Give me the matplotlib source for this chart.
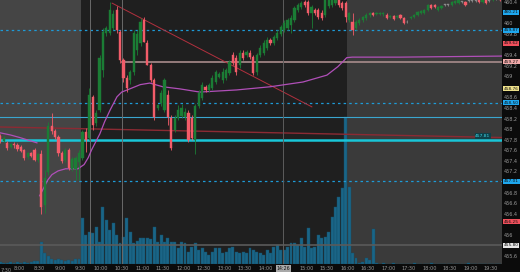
import matplotlib
matplotlib.use("Agg")
import matplotlib.pyplot as plt
from matplotlib.patches import Rectangle
from matplotlib.transforms import blended_transform_factory

# 5 minute bars, times in minutes after midnight
pre_t = list(range(450, 570, 5))
reg_t = list(range(570, 960, 5))
ah_t = list(range(960, 1185, 5))

pre_open = [457.87, 457.78, 457.74, 457.67, 457.72, 457.70, 457.67, 457.61, 457.48, 457.55, 457.61, 457.42,
            457.52, 456.57, 457.19, 458.06, 457.97, 457.85, 457.55, 457.42, 457.61, 457.25, 457.25, 457.38]
pre_high = [457.91, 457.87, 457.78, 457.74, 457.76, 457.74, 457.70, 457.63, 457.57, 457.57, 457.65, 457.55,
            457.61, 457.23, 458.14, 458.31, 458.01, 457.89, 457.59, 457.65, 457.65, 457.48, 457.50, 457.61]
pre_low = [457.74, 457.76, 457.61, 457.65, 457.65, 457.59, 457.57, 457.42, 457.44, 457.48, 457.40, 457.38,
           456.40, 456.42, 457.14, 457.91, 457.82, 457.50, 457.36, 457.38, 457.23, 457.21, 457.04, 457.03]
pre_close = [457.78, 457.84, 457.65, 457.72, 457.69, 457.63, 457.59, 457.46, 457.54, 457.50, 457.42, 457.52,
             456.53, 457.08, 458.06, 457.97, 457.85, 457.54, 457.40, 457.61, 457.27, 457.44, 457.46, 457.55]
pre_vol = [20, 10, 10, 20, 10, 20, 10, 20, 10, 20, 30, 30, 220, 110, 80, 50, 40, 50, 40, 30, 40, 30, 50, 50]

reg_open = [457.46, 457.95, 457.84, 458.61, 458.12, 458.36, 459.12, 459.82, 459.82, 459.91,
            460.25, 459.84, 459.31, 458.97, 458.93, 459.08, 459.50, 459.63, 460.06, 459.63,
            459.21, 458.93, 458.40, 458.50, 458.36, 458.65, 458.21, 457.99, 458.21, 458.25,
            458.23, 458.31, 458.21, 457.80, 458.44, 458.59, 458.80, 458.74, 458.78, 458.89,
            458.99, 458.93, 458.97, 459.06, 459.40, 459.35, 459.21, 459.44, 459.40, 459.44,
            459.36, 459.08, 459.40, 459.44, 459.53, 459.69, 459.63, 459.72, 459.80, 459.87,
            459.91, 459.97, 460.06, 460.25, 460.31, 460.40, 460.40, 460.19, 460.25, 460.25,
            460.19, 460.16, 460.33, 460.35, 460.38, 460.48, 460.38, 460.38]
reg_high = [457.99, 458.02, 458.78, 458.65, 458.36, 459.40, 459.91, 459.95, 460.40, 460.25,
            460.33, 459.87, 459.35, 459.02, 459.12, 459.87, 459.87, 460.10, 460.12, 459.69,
            459.25, 458.97, 458.48, 458.74, 458.97, 458.74, 458.27, 458.27, 458.46, 458.48,
            458.40, 458.36, 458.27, 458.48, 458.74, 458.89, 458.84, 458.87, 459.02, 459.12,
            459.08, 459.16, 459.16, 459.31, 459.46, 459.40, 459.50, 459.50, 459.50, 459.50,
            459.40, 459.44, 459.59, 459.69, 459.74, 459.72, 459.78, 459.87, 459.97, 460.06,
            460.10, 460.16, 460.33, 460.38, 460.42, 460.44, 460.44, 460.35, 460.29, 460.29,
            460.25, 460.53, 460.50, 460.50, 460.53, 460.50, 460.42, 460.42]
reg_low = [457.42, 457.57, 457.80, 457.99, 458.06, 458.33, 458.99, 459.76, 459.78, 459.87,
           459.82, 459.25, 458.89, 458.70, 458.86, 459.02, 459.40, 459.57, 459.65, 459.21,
           458.89, 458.18, 458.36, 458.44, 458.33, 458.08, 457.61, 457.95, 458.18, 458.21,
           458.18, 457.76, 457.80, 457.52, 458.40, 458.55, 458.70, 458.70, 458.74, 458.86,
           458.97, 458.87, 458.93, 459.02, 459.21, 459.02, 459.16, 459.31, 459.36, 459.33,
           459.02, 459.02, 459.36, 459.40, 459.50, 459.59, 459.59, 459.69, 459.76, 459.84,
           459.87, 459.82, 460.02, 460.21, 460.27, 460.31, 460.16, 459.91, 460.16, 460.08,
           460.06, 460.12, 460.29, 460.31, 460.35, 460.31, 460.25, 460.02]
reg_close = [457.95, 457.80, 458.65, 458.08, 458.31, 459.35, 459.84, 459.91, 460.25, 460.18,
             459.87, 459.31, 458.97, 458.78, 459.08, 459.82, 459.80, 460.02, 459.65, 459.21,
             458.93, 458.23, 458.46, 458.69, 458.93, 458.23, 457.65, 458.21, 458.36, 458.40,
             458.33, 457.80, 457.84, 458.44, 458.69, 458.84, 458.74, 458.84, 458.97, 459.08,
             459.04, 459.08, 459.12, 459.27, 459.25, 459.08, 459.44, 459.35, 459.46, 459.36,
             459.06, 459.40, 459.53, 459.63, 459.69, 459.63, 459.74, 459.82, 459.93, 460.01,
             460.06, 460.10, 460.29, 460.35, 460.38, 460.35, 460.19, 460.31, 460.19, 460.12,
             460.10, 460.44, 460.44, 460.48, 460.50, 460.35, 460.29, 460.12]
reg_vol = [460, 290, 320, 310, 370, 220, 570, 440, 340, 410, 290, 210, 270, 460, 320, 210, 230, 260,
           260, 260, 250, 370, 220, 290, 220, 260, 220, 220, 160, 220,
           210, 120, 170, 210, 140, 160, 120, 90, 120, 160, 160, 110, 120, 160, 170, 120, 110, 120,
           110, 160, 140, 120, 110, 90, 140, 110, 170, 190, 140, 140, 170, 210, 210, 190, 260, 170,
           360, 160, 170, 290, 260, 270, 320, 470, 570, 670, 760, 1470]

ah_open = [460.06, 460.02, 459.91, 460.01, 460.06, 460.10, 460.16, 460.19, 460.18, 460.18,
           460.18, 460.16, 460.12, 460.14, 460.12, 460.16, 460.10, 460.02, 460.10, 460.12,
           460.16, 460.19, 460.19, 460.25, 460.35, 460.35, 460.25, 460.29, 460.35, 460.35,
           460.35, 460.38, 460.38, 460.40, 460.40, 460.42, 460.42, 460.42, 460.46, 460.40,
           460.46, 460.42, 460.44, 460.46, 460.46]
ah_high = [460.21, 460.19, 460.06, 460.10, 460.14, 460.19, 460.21, 460.21, 460.21, 460.21,
           460.21, 460.19, 460.16, 460.16, 460.16, 460.18, 460.12, 460.06, 460.14, 460.18,
           460.23, 460.25, 460.27, 460.36, 460.36, 460.36, 460.33, 460.35, 460.36, 460.36,
           460.42, 460.44, 460.46, 460.42, 460.42, 460.44, 460.44, 460.44, 460.48, 460.44,
           460.48, 460.44, 460.50, 460.48, 460.48]
ah_low = [460.02, 459.78, 459.87, 459.97, 460.02, 460.06, 460.12, 460.14, 460.16, 460.16,
          460.14, 460.08, 460.10, 460.06, 460.10, 460.08, 459.99, 460.01, 460.08, 460.10,
          460.14, 460.18, 460.18, 460.23, 460.27, 460.29, 460.23, 460.27, 460.33, 460.33,
          460.33, 460.36, 460.36, 460.38, 460.33, 460.40, 460.40, 460.40, 460.38, 460.38,
          460.36, 460.40, 460.42, 460.44, 460.42]
ah_close = [460.19, 459.87, 460.02, 460.06, 460.12, 460.16, 460.19, 460.16, 460.19, 460.19,
            460.19, 460.10, 460.14, 460.08, 460.14, 460.10, 460.01, 460.02, 460.12, 460.16,
            460.21, 460.23, 460.25, 460.35, 460.29, 460.31, 460.31, 460.33, 460.35, 460.35,
            460.40, 460.42, 460.44, 460.40, 460.35, 460.42, 460.42, 460.42, 460.40, 460.44,
            460.38, 460.42, 460.48, 460.46, 460.44]
ah_vol = [770, 110, 60, 10, 20, 60, 40, 350, 10, 5, 10, 5, 5, 10, 5, 5, 5, 5, 5, 10, 5, 5, 5, 5,
          10, 5, 5, 5, 5, 5, 5, 5, 5, 5, 5, 10, 5, 5, 5, 5, 5, 5, 5, 5, 5]

# purple average lines (prior session tail, then vwap from 8:30)
prev_avg_t = [452, 467, 481, 496, 506]
prev_avg_p = [457.93, 457.89, 457.84, 457.78, 457.74]
vwap_t = [510, 516, 522, 528, 537, 548, 566, 575, 581, 586, 592, 598, 605, 613, 623, 630, 638, 657,
          671, 690, 715, 744, 798, 847, 895, 930, 946, 953, 959, 967, 1037, 1186]
vwap_p = [456.74, 456.89, 457.04, 457.14, 457.21, 457.25, 457.25, 457.33, 457.46, 457.61, 457.76,
          457.91, 458.14, 458.36, 458.61, 458.70, 458.74, 458.84, 458.87, 458.80, 458.76, 458.70,
          458.74, 458.80, 458.89, 459.02, 459.18, 459.27, 459.35, 459.36, 459.36, 459.38]

# price levels
dotted_levels = [459.87, 458.50, 457.01]
support_level = 457.80
thin_level = 458.23
pink_level = 459.27
base_level = 455.80
slope_line = ([452, 1186], [458.04, 457.84])
trend_line = ([616, 908], [460.38, 458.42])

box_prices = [460.21, 459.87, 459.62, 459.27, 458.76, 458.50, 457.01, 456.25, 455.80]
box_faces = ["#1ea7ee", "#1ea7ee", "#f0505c", "#f2aaaa", "#ede08a", "#1ea7ee", "#1ea7ee", "#f0505c", "#e6e6e6"]

y_ticks = [460.4, 460.0, 459.8, 459.4, 459.2, 459.0, 458.6, 458.4, 458.2, 458.0, 457.8, 457.6,
           457.4, 457.2, 456.8, 456.6, 456.4, 456.0, 455.6]
x_ticks = [480, 510, 540, 570, 600, 630, 660, 690, 720, 750, 780, 810, 840,
           900, 930, 960, 990, 1020, 1050, 1080, 1110, 1140, 1170]
x_labels = ["8:00", "8:30", "9:00", "9:30", "10:00", "10:30", "11:00", "11:30", "12:00", "12:30",
            "13:00", "13:30", "14:00", "15:00", "15:30", "16:00", "16:30", "17:00", "17:30",
            "18:00", "18:30", "19:00", "19:30"]
event_t = [584, 630]
cursor_t = 866

GREEN = "#1b7d35"
RED = "#f25c69"
VOL = "#1a6587"
TXT = "#9a9a9a"

fig = plt.figure(figsize=(5.2, 2.72), dpi=100, facecolor="#0b0b0b")
rect = [0, 8 / 272, 502 / 520, 264 / 272]
ax_v = fig.add_axes(rect)
ax = fig.add_axes(rect)
ax.set_facecolor("none")

t0, t1 = 452, 1186
for a in (ax_v, ax):
    a.set_xlim(t0, t1)
    for s in a.spines.values():
        s.set_visible(False)
ax_v.set_ylim(0, 2640)
ax_v.set_xticks([])
ax_v.set_yticks([])

# session backgrounds
ax_v.axvspan(t0, 570, color="#454545", lw=0)
ax_v.axvspan(570, 960, color="#1f1f1f", lw=0)
ax_v.axvspan(960, t1, color="#3a3a3a", lw=0)

# volume
for tt, vv in ((pre_t, pre_vol), (reg_t, reg_vol), (ah_t, ah_vol)):
    ax_v.bar([t + 2.5 for t in tt], vv, width=4.3, color=VOL, edgecolor="#134f69", linewidth=0.3)

ax.set_ylim(455.45, 460.44)

def draw_candles(ax, tt, o, h, l, c):
    for t, oo, hh, ll, cc in zip(tt, o, h, l, c):
        if cc > oo:
            col = GREEN
        elif cc < oo:
            col = RED
        else:
            col = "#8a8a8a"
        ax.vlines(t + 2.5, ll, hh, color=col, lw=0.6, zorder=4)
        body = max(abs(cc - oo), 0.012)
        ax.add_patch(Rectangle((t + 0.9, min(oo, cc)), 3.2, body, facecolor=col,
                               edgecolor=col, lw=0.3, zorder=4))

# lines behind candles
for lv in dotted_levels:
    ax.axhline(lv, color="#1e9bd7", lw=0.9, ls=(0, (2, 2.5)), zorder=2)
ax.axhline(thin_level, color="#3aa6cf", lw=0.8, zorder=2)
ax.axhline(support_level, color="#19c6d8", lw=1.8, zorder=2)
ax.axhline(base_level, color="#5a5a5a", lw=1.2, zorder=2)
ax.plot([630, t1], [pink_level, pink_level], color="#a88c8c", lw=1.2, zorder=2)
ax.plot(slope_line[0], slope_line[1], color="#8c2a33", lw=1.0, zorder=2)
ax.plot(trend_line[0], trend_line[1], color="#b2303e", lw=0.7, zorder=2)
for et in event_t:
    ax.axvline(et, color="#6a6a6a", lw=0.7, zorder=2)
ax.axvline(cursor_t, color="#5c5c5c", lw=0.7, zorder=2)

ax.plot(prev_avg_t, prev_avg_p, color="#b04fb8", lw=0.9, zorder=3)
ax.plot(vwap_t, vwap_p, color="#b04fb8", lw=0.9, zorder=3)

draw_candles(ax, pre_t, pre_open, pre_high, pre_low, pre_close)
draw_candles(ax, reg_t, reg_open, reg_high, reg_low, reg_close)
draw_candles(ax, ah_t, ah_open, ah_high, ah_low, ah_close)

# axes text
ax.yaxis.tick_right()
ax.set_yticks(y_ticks)
ax.set_yticklabels(["%g" % v for v in y_ticks])
ax.tick_params(axis="y", length=0, pad=1.5, labelsize=3.5, labelcolor=TXT)
ax.set_xticks(x_ticks)
ax.set_xticklabels(x_labels)
ax.tick_params(axis="x", length=0, pad=1.5, labelsize=3.6, labelcolor=TXT)
ax.text(t0 + 0.5, 455.38, "7:30", fontsize=3.6, color=TXT, ha="left", va="top", clip_on=False)

tr = blended_transform_factory(ax.transAxes, ax.transData)
for p, fc in zip(box_prices, box_faces):
    ax.text(1.004, p, "%.2f" % p, transform=tr, fontsize=3.1, color="#101010", ha="left", va="center",
            bbox=dict(boxstyle="square,pad=0.12", fc=fc, ec="none"), clip_on=False, zorder=6)

ax.text(1158, support_level + 0.07, "457.81", fontsize=3.2, color="#3fd6e6", ha="center", va="center",
        bbox=dict(boxstyle="square,pad=0.15", fc="#0f4048", ec="none"), zorder=6)

tr_x = blended_transform_factory(ax.transData, ax.transAxes)
ax.text(cursor_t, -0.008, "14:26", transform=tr_x, fontsize=3.4, color="#111111", ha="center", va="top",
        bbox=dict(boxstyle="square,pad=0.15", fc="#a8a8a8", ec="none"), clip_on=False, zorder=6)

fig.savefig("out.png", dpi=100, facecolor=fig.get_facecolor())
